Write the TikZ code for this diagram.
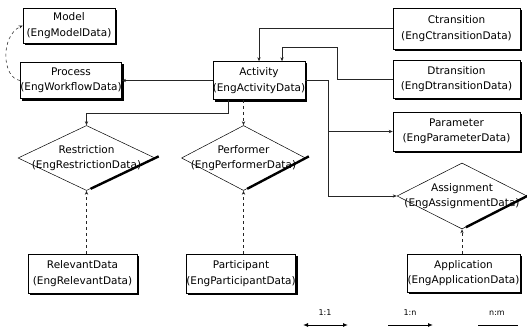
\documentclass[tikz,border=0pt]{standalone}
\usepackage{fontspec}
\setmainfont{DejaVu Sans}
\usetikzlibrary{shapes.geometric,shadows,arrows.meta,calc}

\begin{document}
\begin{tikzpicture}[x=1pt,y=-1pt,
  font=\fontsize{10.5}{15.5}\selectfont,
  line width=0.55pt,
  entity/.style={draw=black, line width=0.5pt, fill=white, inner sep=0pt,
    align=center,
    drop shadow={shadow xshift=2pt, shadow yshift=-2pt, fill=black, opacity=1}},
  relation/.style={draw=black, line width=0.5pt, shape=diamond, inner sep=0pt,
    minimum width=#1},
  rtext/.style={align=center, inner sep=0pt},
  link/.style={draw=black!85, -{Stealth[length=4pt,width=3.2pt]}},
  legtip/.style={line width=1pt, draw=black},
  legtext/.style={font=\fontsize{8}{9}\selectfont, inner sep=0pt}
]
\useasboundingbox[fill=white] (0,0) rectangle (527,329);

% entity boxes
\node[entity, minimum width=92pt, minimum height=35pt] (model) at (69,25.5)
  {Model\\(EngModelData)};
\node[entity, minimum width=96pt, minimum height=36pt] (proc) at (71,80.5)
  {Process\\(EngWorkflowData)};
\node[entity, minimum width=92pt, minimum height=38pt] (act) at (259,80.5)
  {Activity\\(EngActivityData)};
\node[entity, minimum width=127pt, minimum height=41pt] (ctr) at (456.5,28.5)
  {Ctransition\\(EngCtransitionData)};
\node[entity, minimum width=127pt, minimum height=38pt] (dtr) at (456.5,79)
  {Dtransition\\(EngDtransitionData)};
\node[entity, minimum width=127pt, minimum height=39pt] (param) at (456.5,131.5)
  {Parameter\\(EngParameterData)};
\node[entity, minimum width=109pt, minimum height=39pt] (rel) at (82.5,273.5)
  {RelevantData\\(EngRelevantData)};
\node[entity, minimum width=104pt, minimum height=39pt] (part) at (241,273.5)
  {Participant\\(EngParticipantData)};
\node[entity, minimum width=113pt, minimum height=38pt] (app) at (463.5,273)
  {Application\\(EngApplicationData)};

% relationship diamonds
\node[relation=137pt, minimum height=65pt] (rstr) at (86.5,158) {};
\node[relation=124pt, minimum height=65pt] (perf) at (243.5,158) {};
\node[relation=130pt, minimum height=66pt] (asg) at (462,196) {};
\foreach \d in {rstr,perf,asg}
  \draw[line width=2.4pt] ($(\d.south)!0.06!(\d.east)$) -- ($(\d.south)!1.05!(\d.east)$);

\node[rtext] (rstrT) at (rstr.center) {Restriction\\(EngRestrictionData)};
\node[rtext] (perfT) at (perf.center) {Performer\\(EngPerformerData)};
\node[rtext] (asgT) at (asg.center) {Assignment\\(EngAssignmentData)};

% connectors
\draw[link, dashed] (proc.west) .. controls (2,78) and (0,36) .. (model.west);
\draw[link] (act.west) -- (proc.east);
\draw[link] ([xshift=-31pt]act.south) -- ++(0,14) -| (rstr.north);
\draw[link, dashed] (act.south -| perf.north) -- (perf.north);
\draw[link] (ctr.west) -| (act.north);
\draw[link] (dtr.west) -- ++(-55,0) -- ++(0,-32) -| ([xshift=23pt]act.north);
\draw[link] (act.east) -- ++(23,0) |- (param.west);
\draw[link] (act.east) -- ++(23,0) |- (asg.west);
\draw[link, dashed] (rel.north -| rstr.south) -- (rstr.south);
\draw[link, dashed] (part.north -| perf.south) -- (perf.south);
\draw[link, dashed] (app.north -| asg.south) -- (asg.south);

% legend
\node[legtext] (l11) at (325,313) {1:1};
\node[legtext] (l1n) at (410,313) {1:n};
\node[legtext] (lnm) at (497,313) {n:m};
\coordinate (l11a) at (303,325);
\coordinate (l11b) at (348,325);
\coordinate (l1na) at (388,325);
\coordinate (l1nb) at (433,325);
\coordinate (lnma) at (478,325);
\coordinate (lnmb) at (518,325);
\draw[legtip, {Latex[length=5pt,width=4pt]}-{Latex[length=5pt,width=4pt]}] (l11a) -- (l11b);
\draw[legtip, -{Latex[length=5pt,width=4pt]}] (l1na) -- (l1nb);
\draw[legtip] (lnma) -- (lnmb);
\end{tikzpicture}
\end{document}
